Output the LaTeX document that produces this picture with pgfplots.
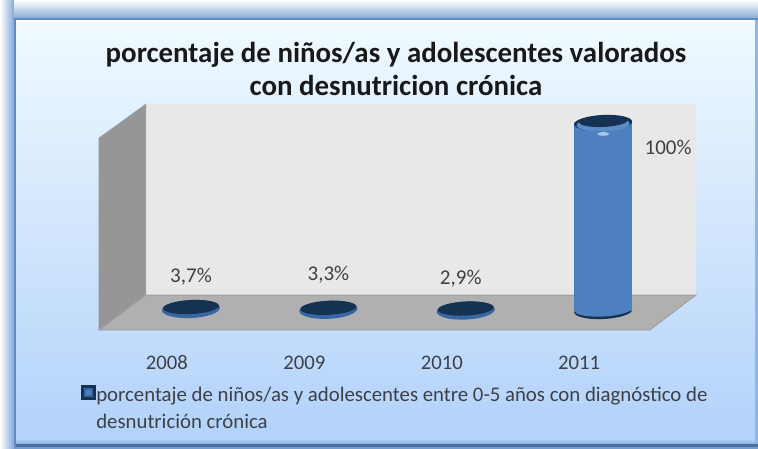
\documentclass[border=0pt]{standalone}
\usepackage{fontspec}
\setmainfont{Carlito}
\usepackage{pgfplots}
\usepackage{pgfplotstable}
\pgfplotsset{compat=1.18}
\definecolor{txt}{RGB}{62,64,70}
\definecolor{wallback}{RGB}{232,232,232}
\definecolor{wallside}{RGB}{150,150,150}
\definecolor{wallfloor}{RGB}{176,176,176}
\definecolor{edgeline}{RGB}{160,160,160}
\definecolor{frameblue}{RGB}{92,140,200}
\definecolor{panelbot}{RGB}{178,210,250}
\definecolor{paneltop}{RGB}{240,250,255}
\definecolor{discdark}{RGB}{22,50,82}
\definecolor{cylmid}{RGB}{78,128,192}
\definecolor{cylside}{RGB}{56,102,160}
\definecolor{cylrim}{RGB}{30,68,110}
\pgfdeclarehorizontalshading{cyl}{100bp}{
  color(0bp)=(discdark); color(6bp)=(cylrim);
  color(14bp)=(cylside); color(26bp)=(cylmid);
  color(76bp)=(cylmid); color(88bp)=(cylside);
  color(95bp)=(cylrim); color(100bp)=(discdark)}
% discs for the cylinders, slightly tilted
\pgfdeclareplotmark{disc}{\pgfpathellipse{\pgfpointorigin}{\pgfqpoint{29pt}{1.4pt}}{\pgfqpoint{-.4pt}{8pt}}\pgfusepathqfill}
\pgfdeclareplotmark{foot}{\pgfpathellipse{\pgfqpoint{0pt}{1pt}}{\pgfqpoint{28pt}{1.4pt}}{\pgfqpoint{-.3pt}{6.5pt}}\pgfshadepath{cyl}{0}\pgfusepath{discard}}
\pgfdeclareplotmark{smallrim}{\pgfpathellipse{\pgfqpoint{0pt}{-5pt}}{\pgfqpoint{29pt}{1.4pt}}{\pgfqpoint{-.4pt}{9pt}}\pgfusepathqfill}
\pgfdeclareplotmark{smalltop}{\pgfpathellipse{\pgfqpoint{0pt}{-3pt}}{\pgfqpoint{28pt}{1.4pt}}{\pgfqpoint{-.4pt}{7pt}}\pgfusepathqfill}
\pgfdeclareplotmark{bevel}{\pgfpathellipse{\pgfpointorigin}{\pgfqpoint{26.5pt}{0.8pt}}{\pgfqpoint{-.2pt}{7pt}}\pgfusepathqfill}
\pgfdeclareplotmark{innertop}{\pgfpathellipse{\pgfqpoint{0pt}{1.5pt}}{\pgfqpoint{24pt}{1pt}}{\pgfqpoint{-.1pt}{5.5pt}}\pgfusepathqfill}
\pgfdeclareplotmark{glint}{\pgfpathellipse{\pgfqpoint{0pt}{-11pt}}{\pgfqpoint{6pt}{0pt}}{\pgfqpoint{0pt}{1.8pt}}\pgfusepathqfill}
\pgfplotstableread{
x val dx dy
0 3.7 0 27
1 3.3 0 30
2 2.9 -5 26.5
3 100 65 -24
}\alldata
\pgfplotstableread{
x val
0 3.7
1 3.3
2 2.9
}\smalldata
\pgfplotstableread{
x val
3 100
}\talldata
\begin{document}
\begin{tikzpicture}
% chart area frame
\shade[left color=white,right color=frameblue!80] (0pt,0pt) rectangle (15pt,449pt);
\shade[top color=white,bottom color=frameblue!80] (14pt,429pt) rectangle (758pt,449pt);
\shade[top color=paneltop,bottom color=panelbot] (16pt,10pt) rectangle (755pt,429pt);
\shade[top color=panelbot,bottom color=panelbot!50!frameblue] (16pt,5pt) rectangle (755pt,10pt);
\fill[frameblue!80!black] (14pt,2pt) rectangle (758pt,5pt);
\fill[frameblue!85] (14pt,0pt) rectangle (758pt,2pt);
\fill[white] (16pt,426.5pt) rectangle (755pt,429pt);
\fill[frameblue] (14pt,2pt) rectangle (16pt,430pt);
\fill[frameblue] (14pt,429pt) rectangle (758pt,430.5pt);
\fill[frameblue!40!panelbot] (755pt,5pt) rectangle (758pt,429pt);
\begin{axis}[
  name=ax, at={(0,0)}, anchor=south west,
  scale only axis, width=758pt, height=449pt,
  clip=false, clip marker paths=true,
  axis line style={draw=none}, tick style={draw=none},
  xmin=-1.39, xmax=4.127,
  % value 0 sits at pixel row 311, 1.88 px to the unit
  ymin=-73.4, ymax=165.4,
  ytick=\empty, xtick={0,1,2,3}, xticklabels={2008,2009,2010,2011},
  x tick label style={anchor=center,xshift=-24pt,yshift=86pt,font=\fontsize{20.7}{24}\selectfont,text=txt},
  /pgf/number format/assume math mode=true,
  title={porcentaje de niños/as y adolescentes valorados\\con desnutricion crónica},
  title style={at={(axis description cs:0.5224,0.833)},anchor=center,align=center,
    font=\fontsize{28.9}{33}\selectfont\bfseries,text=black!90},
  legend style={draw=none,fill=none,at={(axis description cs:0.103,0.098)},anchor=south west,
    font=\fontsize{20.8}{27}\selectfont,text=txt,
    nodes={text width=640pt,align=flush left,inner sep=0pt}},
]
\addlegendimage{draw=none,fill=none,legend image code/.code={
    \fill[discdark] (-2pt,-5pt) rectangle (13pt,10pt);
    \fill[cylside] (1pt,-2pt) rectangle (10pt,7pt);
    \fill[cylmid] (3pt,0pt) rectangle (8pt,5pt);}}
\addlegendentry{porcentaje de niños/as y adolescentes entre 0-5 años con diagnóstico de desnutrición crónica}
% walls, in the axis' own units
\addplot[draw=none,fill=wallback,forget plot] coordinates {(-0.3275,8.5)(3.675,8.5)(3.675,110.1)(-0.3275,110.1)} -- cycle;
\addplot[draw=edgeline,fill=wallside,line width=.5pt,forget plot] coordinates {(-0.6696,-10.1)(-0.3275,8.5)(-0.3275,110.1)(-0.6696,92)} -- cycle;
\addplot[draw=edgeline,fill=wallfloor,line width=1pt,forget plot] coordinates {(-0.6696,-10.1)(-0.3275,8.5)(3.675,8.5)(3.34,-10.1)} -- cycle;
% low cylinders are nearly flat discs
\addplot[only marks,mark=smallrim,forget plot,mark options={fill=cylside,draw=none}] table[x=x,y=val] {\smalldata};
\addplot[only marks,mark=smalltop,forget plot,mark options={fill=discdark,draw=none}] table[x=x,y=val] {\smalldata};
% tall cylinder
\addplot[only marks,mark=disc,forget plot,mark options={fill=discdark,draw=none}] table[x=x,y expr=0] {\talldata};
\addplot[only marks,mark=foot,forget plot] table[x=x,y expr=0] {\talldata};
\addplot[ybar,bar width=57pt,bar shift=0pt,draw=none,shade,shading=cyl,forget plot] table[x=x,y=val] {\talldata};
\addplot[only marks,mark=disc,forget plot,mark options={fill=discdark,draw=none}] table[x=x,y=val] {\talldata};
\addplot[only marks,mark=bevel,forget plot,mark options={fill=frameblue,draw=none,yshift=-1.5pt}] table[x=x,y=val] {\talldata};
\addplot[only marks,mark=innertop,forget plot,mark options={fill=discdark,draw=none}] table[x=x,y=val] {\talldata};
\addplot[only marks,mark=glint,forget plot,mark options={fill=white!50!frameblue,draw=none}] table[x=x,y=val] {\talldata};
% value labels
\addplot[draw=none,mark=none,forget plot,
  visualization depends on={\thisrow{dx} \as \dx},
  visualization depends on={\thisrow{dy} \as \dy},
  nodes near coords={\pgfmathprintnumber[fixed,use comma,precision=1,assume math mode=true]{\pgfplotspointmeta}\%},
  point meta=y,
  nodes near coords style={anchor=center,font=\fontsize{21}{24}\selectfont,text=txt,xshift=\dx pt,yshift=\dy pt}]
  table[x=x,y=val] {\alldata};
\end{axis}
\end{tikzpicture}
\end{document}
